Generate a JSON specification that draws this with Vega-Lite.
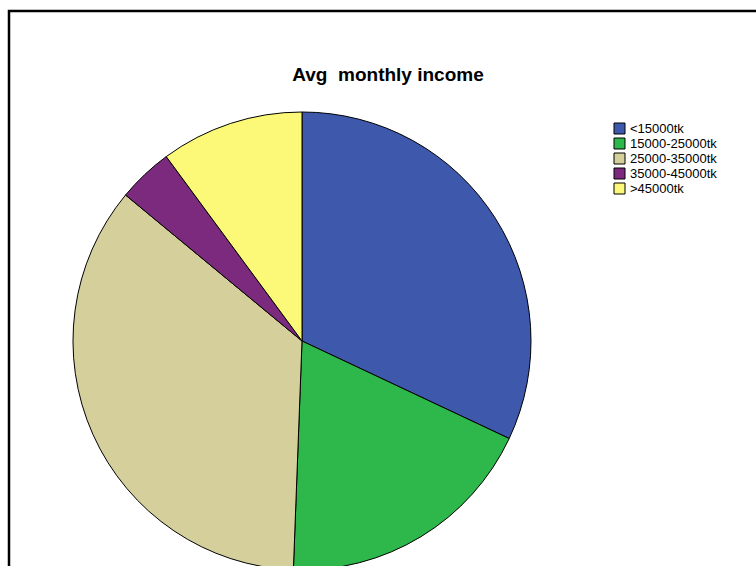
{
  "$schema": "https://vega.github.io/schema/vega-lite/v6.json",
  "autosize": {"type": "none"},
  "padding": {"left": 9, "top": 11, "right": 0, "bottom": 0},
  "width": 800,
  "height": 600,
  "background": "white",
  "view": {"stroke": "black", "strokeWidth": 2.5, "fill": "white"},
  "title": {
    "text": "Avg\u00a0 monthly income",
    "font": "Liberation Sans",
    "fontSize": 19,
    "fontWeight": "bold",
    "color": "black",
    "anchor": "middle",
    "frame": "group",
    "baseline": "middle",
    "dx": -21,
    "dy": 83,
    "offset": 0
  },
  "data": {
    "values": [
      {"income": "<15000tk", "percent": 32.0, "ord": 1},
      {"income": "15000-25000tk", "percent": 18.6, "ord": 2},
      {"income": "25000-35000tk", "percent": 35.4, "ord": 3},
      {"income": "35000-45000tk", "percent": 3.9, "ord": 4},
      {"income": ">45000tk", "percent": 10.1, "ord": 5}
    ]
  },
  "mark": {"type": "arc", "radius": 229, "x": 293, "y": 330, "stroke": "black", "strokeWidth": 1},
  "encoding": {
    "theta": {"field": "percent", "type": "quantitative", "stack": true},
    "order": {"field": "ord", "type": "quantitative"},
    "color": {
      "field": "income",
      "type": "nominal",
      "sort": ["<15000tk", "15000-25000tk", "25000-35000tk", "35000-45000tk", ">45000tk"],
      "scale": {
        "domain": ["<15000tk", "15000-25000tk", "25000-35000tk", "35000-45000tk", ">45000tk"],
        "range": ["#3E58AC", "#2EB84B", "#D5CF9B", "#7B2A7E", "#FBF977"]
      },
      "legend": {
        "title": null,
        "orient": "none",
        "legendX": 604,
        "legendY": 111,
        "symbolType": "square",
        "symbolSize": 121,
        "symbolStrokeColor": "black",
        "symbolStrokeWidth": 1,
        "symbolOpacity": 1,
        "labelFont": "Liberation Sans",
        "labelFontSize": 13,
        "labelColor": "black",
        "labelOffset": 4,
        "rowPadding": 0
      }
    }
  },
  "config": {
    "view": {"stroke": "black", "strokeWidth": 2.5}
  }
}
